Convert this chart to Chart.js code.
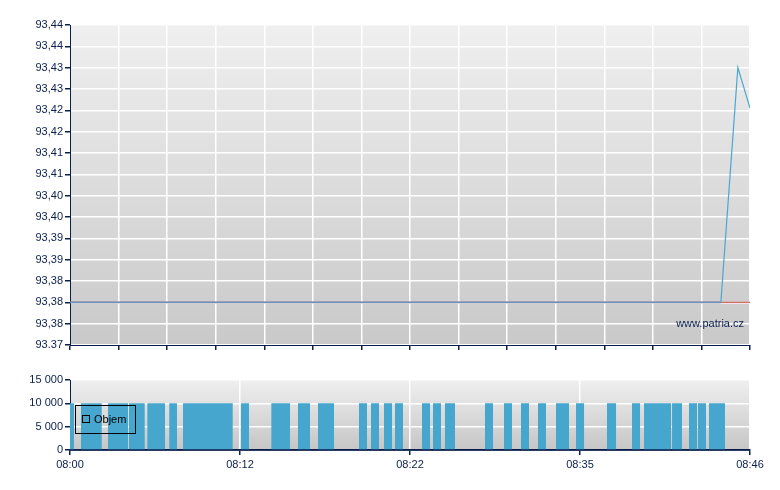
<!DOCTYPE html>
<html>
<head>
<meta charset="utf-8">
<script src="https://cdn.jsdelivr.net/npm/chart.js@4.4.1/dist/chart.umd.min.js"></script>
<style>
  body { margin: 0; background: #fff; }
  #wrap { position: relative; width: 780px; height: 490px; }
  #priceChart { position: absolute; left: 0; top: 0; }
  #volChart { position: absolute; left: 0; top: 360px; }
</style>
</head>
<body>
<div id="wrap">
  <canvas id="priceChart" width="780" height="360"></canvas>
  <canvas id="volChart" width="780" height="130"></canvas>
</div>
<script>
// x runs along trade index (0..140), labels are the times at those spots
const timeTicks = [0, 35, 70, 105, 140];
const timeLabels = ["08:00", "08:12", "08:22", "08:35", "08:46"];

// price
const priceX = [0, 134, 137.5, 140];
const priceY = [93.38, 93.38, 93.435, 93.4255];
const refPrice = 93.38;
const yTickValues = [93.37, 93.375, 93.38, 93.385, 93.39, 93.395, 93.40, 93.405,
  93.41, 93.415, 93.42, 93.425, 93.43, 93.435, 93.44, 93.445];
const yLabels = ["93.37", "93,38", "93,38", "93,38", "93,39", "93,39", "93,40", "93,40",
  "93,41", "93,41", "93,42", "93,42", "93,43", "93,43", "93,44", "93,44"];

// volume (Objem) - each block from start to end
const volStart = [0, 2.26, 7.82, 12.15, 15.92, 20.44, 23.27, 35.2, 41.45, 46.94, 51.06,
  59.5, 61.97, 64.65, 66.91, 72.47, 74.74, 77.2, 85.44, 89.35, 92.85, 96.35, 100.06,
  104.18, 110.56, 115.71, 118.18, 123.95, 127.44, 129.3, 131.56];
const volEnd = [0.82, 6.53, 11.94, 15.38, 19.56, 22.03, 33.5, 36.85, 45.3, 49.41, 54.35,
  61.15, 63.62, 66.3, 68.56, 74.12, 76.38, 79.26, 87.09, 91.0, 94.5, 98.0, 102.74,
  105.83, 112.42, 117.36, 123.74, 126.0, 129.09, 130.94, 134.85];
const volValue = [10000, 10000, 10000, 10000, 10000, 10000, 10000, 10000, 10000, 10000, 10000,
  10000, 10000, 10000, 10000, 10000, 10000, 10000, 10000, 10000, 10000, 10000, 10000,
  10000, 10000, 10000, 10000, 10000, 10000, 10000, 10000];
const volTicks = [0, 5000, 10000, 15000];

const NAVY = "#0b1f4d";
const FONT = {family: "'Liberation Sans', Arial, sans-serif", size: 11};
Chart.defaults.font = FONT;
Chart.defaults.color = NAVY;

// gradient plot background
const plotBg = {
  id: "plotBg",
  beforeDraw(chart, args, opts) {
    const a = chart.chartArea;
    const ctx = chart.ctx;
    const g = ctx.createLinearGradient(0, a.top, 0, a.bottom);
    g.addColorStop(0, opts.top);
    g.addColorStop(1, opts.bottom);
    ctx.save();
    ctx.fillStyle = g;
    ctx.fillRect(a.left, a.top, a.right - a.left, a.bottom - a.top);
    ctx.restore();
  }
};

const watermark = {
  id: "watermark",
  afterDatasetsDraw(chart) {
    const a = chart.chartArea;
    const ctx = chart.ctx;
    ctx.save();
    ctx.font = "11px 'Liberation Sans', Arial, sans-serif";
    ctx.fillStyle = NAVY;
    ctx.textAlign = "right";
    ctx.textBaseline = "alphabetic";
    ctx.fillText("www.patria.cz", a.right - 6, a.bottom - 18);
    ctx.restore();
  }
};

const boxLegend = {
  id: "boxLegend",
  afterDraw(chart) {
    const a = chart.chartArea;
    const ctx = chart.ctx;
    ctx.save();
    // axis line back on top of the filled volume
    ctx.strokeStyle = NAVY;
    ctx.lineWidth = 1.5;
    ctx.beginPath();
    ctx.moveTo(a.left, a.bottom);
    ctx.lineTo(a.right, a.bottom);
    ctx.stroke();
    ctx.strokeStyle = "#000";
    ctx.lineWidth = 1;
    ctx.strokeRect(a.left + 5.5, a.top + 25.5, 60, 28);
    ctx.strokeRect(a.left + 12.5, a.top + 35.5, 7, 7);
    ctx.font = "11px 'Liberation Sans', Arial, sans-serif";
    ctx.fillStyle = "#000";
    ctx.textBaseline = "middle";
    ctx.fillText(chart.data.datasets[0].label, a.left + 24, a.top + 40);
    ctx.restore();
  }
};

const priceData = priceX.map((x, i) => ({x: x, y: priceY[i]}));
const refData = [{x: 0, y: refPrice}, {x: 140, y: refPrice}];

new Chart(document.getElementById("priceChart"), {
  type: "line",
  data: {
    datasets: [
      {
        label: "Kurz",
        data: priceData,
        borderWidth: 1.2,
        pointRadius: 0,
        borderColor: "#4aa8d2",
        segment: {
          borderColor: c => (c.p0.parsed.y === refPrice && c.p1.parsed.y === refPrice) ? "#6f90b4" : "#4aa8d2",
          borderWidth: c => (c.p0.parsed.y === refPrice && c.p1.parsed.y === refPrice) ? 1.6 : 1.2
        },
        order: 1
      },
      {
        label: "Předchozí",
        data: refData,
        borderWidth: 1.2,
        pointRadius: 0,
        borderColor: "#e06a6a",
        order: 2
      }
    ]
  },
  options: {
    responsive: false,
    animation: false,
    layout: {padding: {top: 25, right: 30, left: 0, bottom: 0}},
    plugins: {
      legend: {display: false},
      tooltip: {enabled: false},
      plotBg: {top: "#efefef", bottom: "#c9c9c9"}
    },
    scales: {
      x: {
        type: "linear",
        min: 0,
        max: 140,
        afterBuildTicks: s => { s.ticks = [0, 10, 20, 30, 40, 50, 60, 70, 80, 90, 100, 110, 120, 130, 140].map(v => ({value: v})); },
        afterFit: s => { s.height = 15; },
        ticks: {callback: () => ""},
        grid: {color: "#ffffff", tickColor: NAVY, tickLength: 5, lineWidth: 1.5},
        border: {color: NAVY, width: 1}
      },
      y: {
        type: "linear",
        min: 93.37,
        max: 93.445,
        afterBuildTicks: s => { s.ticks = yTickValues.map(v => ({value: v})); },
        afterFit: s => { s.width = 70; },
        ticks: {callback: (v, i) => yLabels[i], padding: 2, color: NAVY},
        grid: {color: "#ffffff", tickColor: NAVY, tickLength: 5, lineWidth: 1.5},
        border: {color: NAVY, width: 1}
      }
    }
  },
  plugins: [plotBg, watermark]
});

// volume blocks as a stepped filled line: value held from start to end
const volData = [];
volStart.forEach((s, i) => {
  volData.push({x: s, y: volValue[i]});
  volData.push({x: volEnd[i], y: 0});
});

new Chart(document.getElementById("volChart"), {
  type: "line",
  data: {
    datasets: [{
      label: "Objem",
      data: volData,
      stepped: "before",
      fill: "origin",
      backgroundColor: "#46a6ce",
      borderColor: "rgba(0,0,0,0)",
      borderWidth: 0,
      pointRadius: 0
    }]
  },
  options: {
    responsive: false,
    animation: false,
    layout: {padding: {top: 20, right: 30, left: 0, bottom: 0}},
    plugins: {
      legend: {display: false},
      tooltip: {enabled: false},
      plotBg: {top: "#efefef", bottom: "#c6c6c6"}
    },
    scales: {
      x: {
        type: "linear",
        min: 0,
        max: 140,
        afterBuildTicks: s => { s.ticks = timeTicks.map(v => ({value: v})); },
        afterFit: s => { s.height = 40; },
        ticks: {callback: (v, i) => timeLabels[i], padding: 3, color: NAVY, maxRotation: 0},
        grid: {color: "#ffffff", tickColor: NAVY, tickLength: 5, lineWidth: 1.5},
        border: {color: NAVY, width: 1.5}
      },
      y: {
        type: "linear",
        min: 0,
        max: 15000,
        afterBuildTicks: s => { s.ticks = volTicks.map(v => ({value: v})); },
        afterFit: s => { s.width = 70; },
        ticks: {callback: v => String(v).replace(/\B(?=(\d{3})+(?!\d))/g, " "), padding: 2, color: NAVY},
        grid: {color: "#ffffff", tickColor: NAVY, tickLength: 5, lineWidth: 1.5},
        border: {color: NAVY, width: 1}
      }
    }
  },
  plugins: [plotBg, boxLegend]
});
</script>
</body>
</html>
